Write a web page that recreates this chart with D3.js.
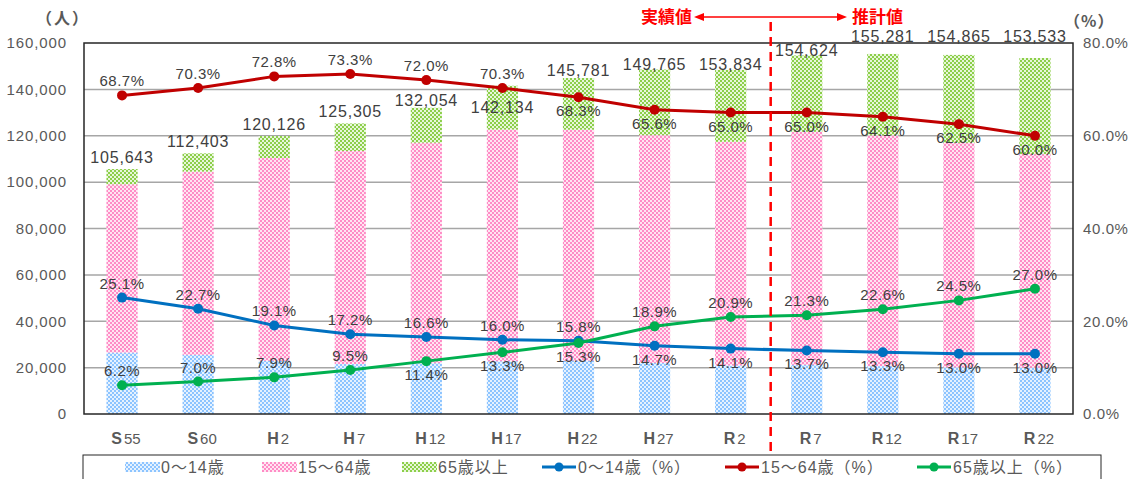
<!DOCTYPE html>
<html><head><meta charset="utf-8">
<script src="https://cdn.jsdelivr.net/npm/d3@7"></script>
<style>
html,body{margin:0;padding:0;background:#fff;}
svg{display:block;font-family:"Liberation Sans",Arial,"Noto Sans CJK JP",sans-serif;}
</style></head>
<body><svg id="c" width="1141" height="479"></svg>
<script>
// ---- data ----
const categories = ["S55","S60","H2","H7","H12","H17","H22","H27","R2","R7","R12","R17","R22"];
const catPrefix = ["S","S","H","H","H","H","H","H","R","R","R","R","R"];
const catNumber = ["55","60","2","7","12","17","22","27","2","7","12","17","22"];
const age0_14  = [26516,25515,22944,21552,21921,22741,23033,22015,20920,21183,20652,20132,19959];
const age15_64 = [72577,79019,87452,91849,95079,99920,99568,98246,96460,100506,99535,96791,92120];
const age65    = [6550,7868,9490,11904,15054,18904,22304,28306,31020,32935,35094,37942,41454];
const totals   = [105643,112403,120126,125305,132054,142134,145781,149765,153834,154624,155281,154865,153533];
const pct0_14  = [25.1,22.7,19.1,17.2,16.6,16.0,15.8,14.7,14.1,13.7,13.3,13.0,13.0];
const pct15_64 = [68.7,70.3,72.8,73.3,72.0,70.3,68.3,65.6,65.0,65.0,64.1,62.5,60.0];
const pct65    = [6.2,7.0,7.9,9.5,11.4,13.3,15.3,18.9,20.9,21.3,22.6,24.5,27.0];
const leftTicks = [0,20000,40000,60000,80000,100000,120000,140000,160000];
const rightTicks = [0,20,40,60,80];
const legendLabels = ["0～14歳","15～64歳","65歳以上","0～14歳（%）","15～64歳（%）","65歳以上（%）"];

// ---- layout ----
const svg = d3.select("#c");
const L = 84, R = 1073, T = 43, B = 414;
const textCol = "#595959", labelCol = "#404040";
const x = d3.scaleBand().domain(categories).range([L, R]).paddingInner(0.59).paddingOuter(0.295);
const yL = d3.scaleLinear().domain([0,160000]).range([B,T]);
const yR = d3.scaleLinear().domain([0,80]).range([B,T]);
const cx = c => x(c) + x.bandwidth()/2;

// patterns
const defs = svg.append("defs");
function pat(id, col, bg){
  const p = defs.append("pattern").attr("id",id).attr("patternUnits","userSpaceOnUse").attr("width",4).attr("height",4);
  p.append("rect").attr("width",4).attr("height",4).attr("fill",bg);
  p.append("rect").attr("x",0).attr("y",0).attr("width",2).attr("height",2).attr("fill",col);
  p.append("rect").attr("x",2).attr("y",2).attr("width",2).attr("height",2).attr("fill",col);
}
pat("pBlue","#8cc4ff","#e6f2ff");
pat("pPink","#ff8cc6","#ffe6f2");
pat("pGreen","#8ccf4a","#e8f6da");

// gridlines
svg.append("g").selectAll("line").data(leftTicks.filter(v=>v>0 && v<160000)).join("line")
  .attr("x1",L).attr("x2",R).attr("y1",d=>yL(d)).attr("y2",d=>yL(d))
  .attr("stroke","#a6a6a6").attr("stroke-width",1.5);

// bars
const stackData = categories.map((c,i)=>({c, a:age0_14[i], b:age15_64[i], g:age65[i]}));
const stack = d3.stack().keys(["a","b","g"])(stackData);
const fills = {a:"url(#pBlue)", b:"url(#pPink)", g:"url(#pGreen)"};
svg.append("g").selectAll("g").data(stack).join("g").attr("fill",d=>fills[d.key])
  .selectAll("rect").data(d=>d).join("rect")
  .attr("x",d=>x(d.data.c)).attr("width",x.bandwidth())
  .attr("y",d=>yL(d[1])).attr("height",d=>yL(d[0])-yL(d[1]));

// plot border
svg.append("rect").attr("x",L).attr("y",T).attr("width",R-L).attr("height",B-T)
  .attr("fill","none").attr("stroke","#262626").attr("stroke-width",1.5);

// left axis
const axL = svg.append("g").attr("transform",`translate(${L},0)`)
  .call(d3.axisLeft(yL).tickValues(leftTicks).tickFormat(d3.format(",")).tickSize(0).tickPadding(17));
axL.select(".domain").remove();
axL.selectAll("text").attr("fill",textCol).style("font-size","15px").style("letter-spacing","0.9px");

// right axis
const axR = svg.append("g").attr("transform",`translate(${R},0)`)
  .call(d3.axisRight(yR).tickValues(rightTicks).tickFormat(d=>d3.format(".1f")(d)+"%").tickSize(0).tickPadding(10));
axR.select(".domain").remove();
axR.selectAll("text").attr("fill",textCol).style("font-size","15px").style("letter-spacing","0.6px");

// x labels
const xl = svg.append("g").selectAll("text").data(categories).join("text")
  .attr("x",d=>cx(d)+4).attr("y",444).attr("text-anchor","middle").attr("fill",textCol);
xl.append("tspan").text((d,i)=>catPrefix[i]).style("font-size","16px").style("font-weight","bold");
xl.append("tspan").text((d,i)=>catNumber[i]).style("font-size","15px").attr("dx",2);

// axis titles
svg.append("text").attr("x",36).attr("y",24).attr("fill",textCol).style("font-size","16px").style("letter-spacing","2px")
  .style("font-family","'Noto Sans CJK JP',sans-serif").style("font-weight","bold").text("（人）");
svg.append("text").attr("x",1064).attr("y",27).attr("fill",textCol).style("font-size","16px").style("letter-spacing","1px")
  .style("font-family","'Noto Sans CJK JP',sans-serif").style("font-weight","bold").text("（%）");

// total labels
const totalShift = {4: 4, 5: 33, 6: 4, 7: 6, 8: 6, 9: 7, 10: -6, 11: -7, 12: -10};
svg.append("g").selectAll("text").data(categories).join("text")
  .attr("x",d=>cx(d)).attr("y",(d,i)=>yL(age0_14[i]+age15_64[i]+age65[i]) - 6 + (totalShift[i]||0))
  .attr("text-anchor","middle").attr("fill",labelCol).style("font-size","16px").style("letter-spacing","0.8px")
  .text((d,i)=>d3.format(",")(totals[i]));

// lines
const series = [
  {vals:pct15_64, col:"#c00000", below:new Set([6,7,8,9,10,11,12])},
  {vals:pct0_14, col:"#0070c0", below:new Set([7,8,9,10,11,12])},
  {vals:pct65, col:"#00b050", below:new Set([4,5,6])}
];
series.forEach(s=>{
  const pts = categories.map((c,i)=>[cx(c), yR(s.vals[i])]);
  svg.append("path").attr("d",d3.line()(pts)).attr("fill","none").attr("stroke",s.col).attr("stroke-width",3);
  svg.append("g").selectAll("circle").data(pts).join("circle").attr("cx",d=>d[0]).attr("cy",d=>d[1]).attr("r",5).attr("fill",s.col);
});
series.forEach(s=>{
  svg.append("g").selectAll("text").data(categories).join("text")
    .attr("x",d=>cx(d)).attr("y",(d,i)=>yR(s.vals[i]) + (s.below.has(i)? 19 : -9))
    .attr("text-anchor","middle").attr("fill",labelCol).style("font-size","15px").style("letter-spacing","0.5px")
    .text((d,i)=>d3.format(".1f")(s.vals[i])+"%");
});

// divider line & annotation
const divX = (cx("R2")+cx("R7"))/2 + 2;
svg.append("line").attr("x1",divX).attr("x2",divX).attr("y1",22).attr("y2",452)
  .attr("stroke","#ff0000").attr("stroke-width",2.5).attr("stroke-dasharray","9,6");
const ay = 17;
svg.append("line").attr("x1",700).attr("x2",841).attr("y1",ay).attr("y2",ay).attr("stroke","#ff0000").attr("stroke-width",1.5);
svg.append("path").attr("d",`M694,${ay} L704,${ay-4} L704,${ay+4} Z M847,${ay} L837,${ay-4} L837,${ay+4} Z`).attr("fill","#ff0000");
svg.append("text").attr("x",692).attr("y",ay+6).attr("text-anchor","end").attr("fill","#ff0000")
  .style("font-size","17px").style("font-weight","bold").style("font-family","'Noto Sans CJK JP',sans-serif").text("実績値");
svg.append("text").attr("x",852).attr("y",ay+6).attr("fill","#ff0000")
  .style("font-size","17px").style("font-weight","bold").style("font-family","'Noto Sans CJK JP',sans-serif").text("推計値");

// legend
svg.append("rect").attr("x",83).attr("y",455).attr("width",1018).attr("height",40).attr("fill","#fff").attr("stroke","#262626").attr("stroke-width",1);
const legX = [125,262,402,542,725,917];
const legKinds = ["pBlue","pPink","pGreen","#0070c0","#c00000","#00b050"];
const ly = 467;
legendLabels.forEach((t,i)=>{
  const g = svg.append("g");
  if(i<3){
    g.append("rect").attr("x",legX[i]).attr("y",ly-5).attr("width",35).attr("height",10).attr("fill",`url(#${legKinds[i]})`);
  } else {
    g.append("line").attr("x1",legX[i]).attr("x2",legX[i]+34).attr("y1",ly).attr("y2",ly).attr("stroke",legKinds[i]).attr("stroke-width",3);
    g.append("circle").attr("cx",legX[i]+17).attr("cy",ly).attr("r",4.5).attr("fill",legKinds[i]);
  }
  g.append("text").attr("x",legX[i]+36).attr("y",ly+6).attr("fill",textCol).style("font-size","16px").style("letter-spacing","1px")
    .style("font-family","'Liberation Sans','Noto Sans CJK JP',sans-serif").text(t);
});
</script></body></html>
